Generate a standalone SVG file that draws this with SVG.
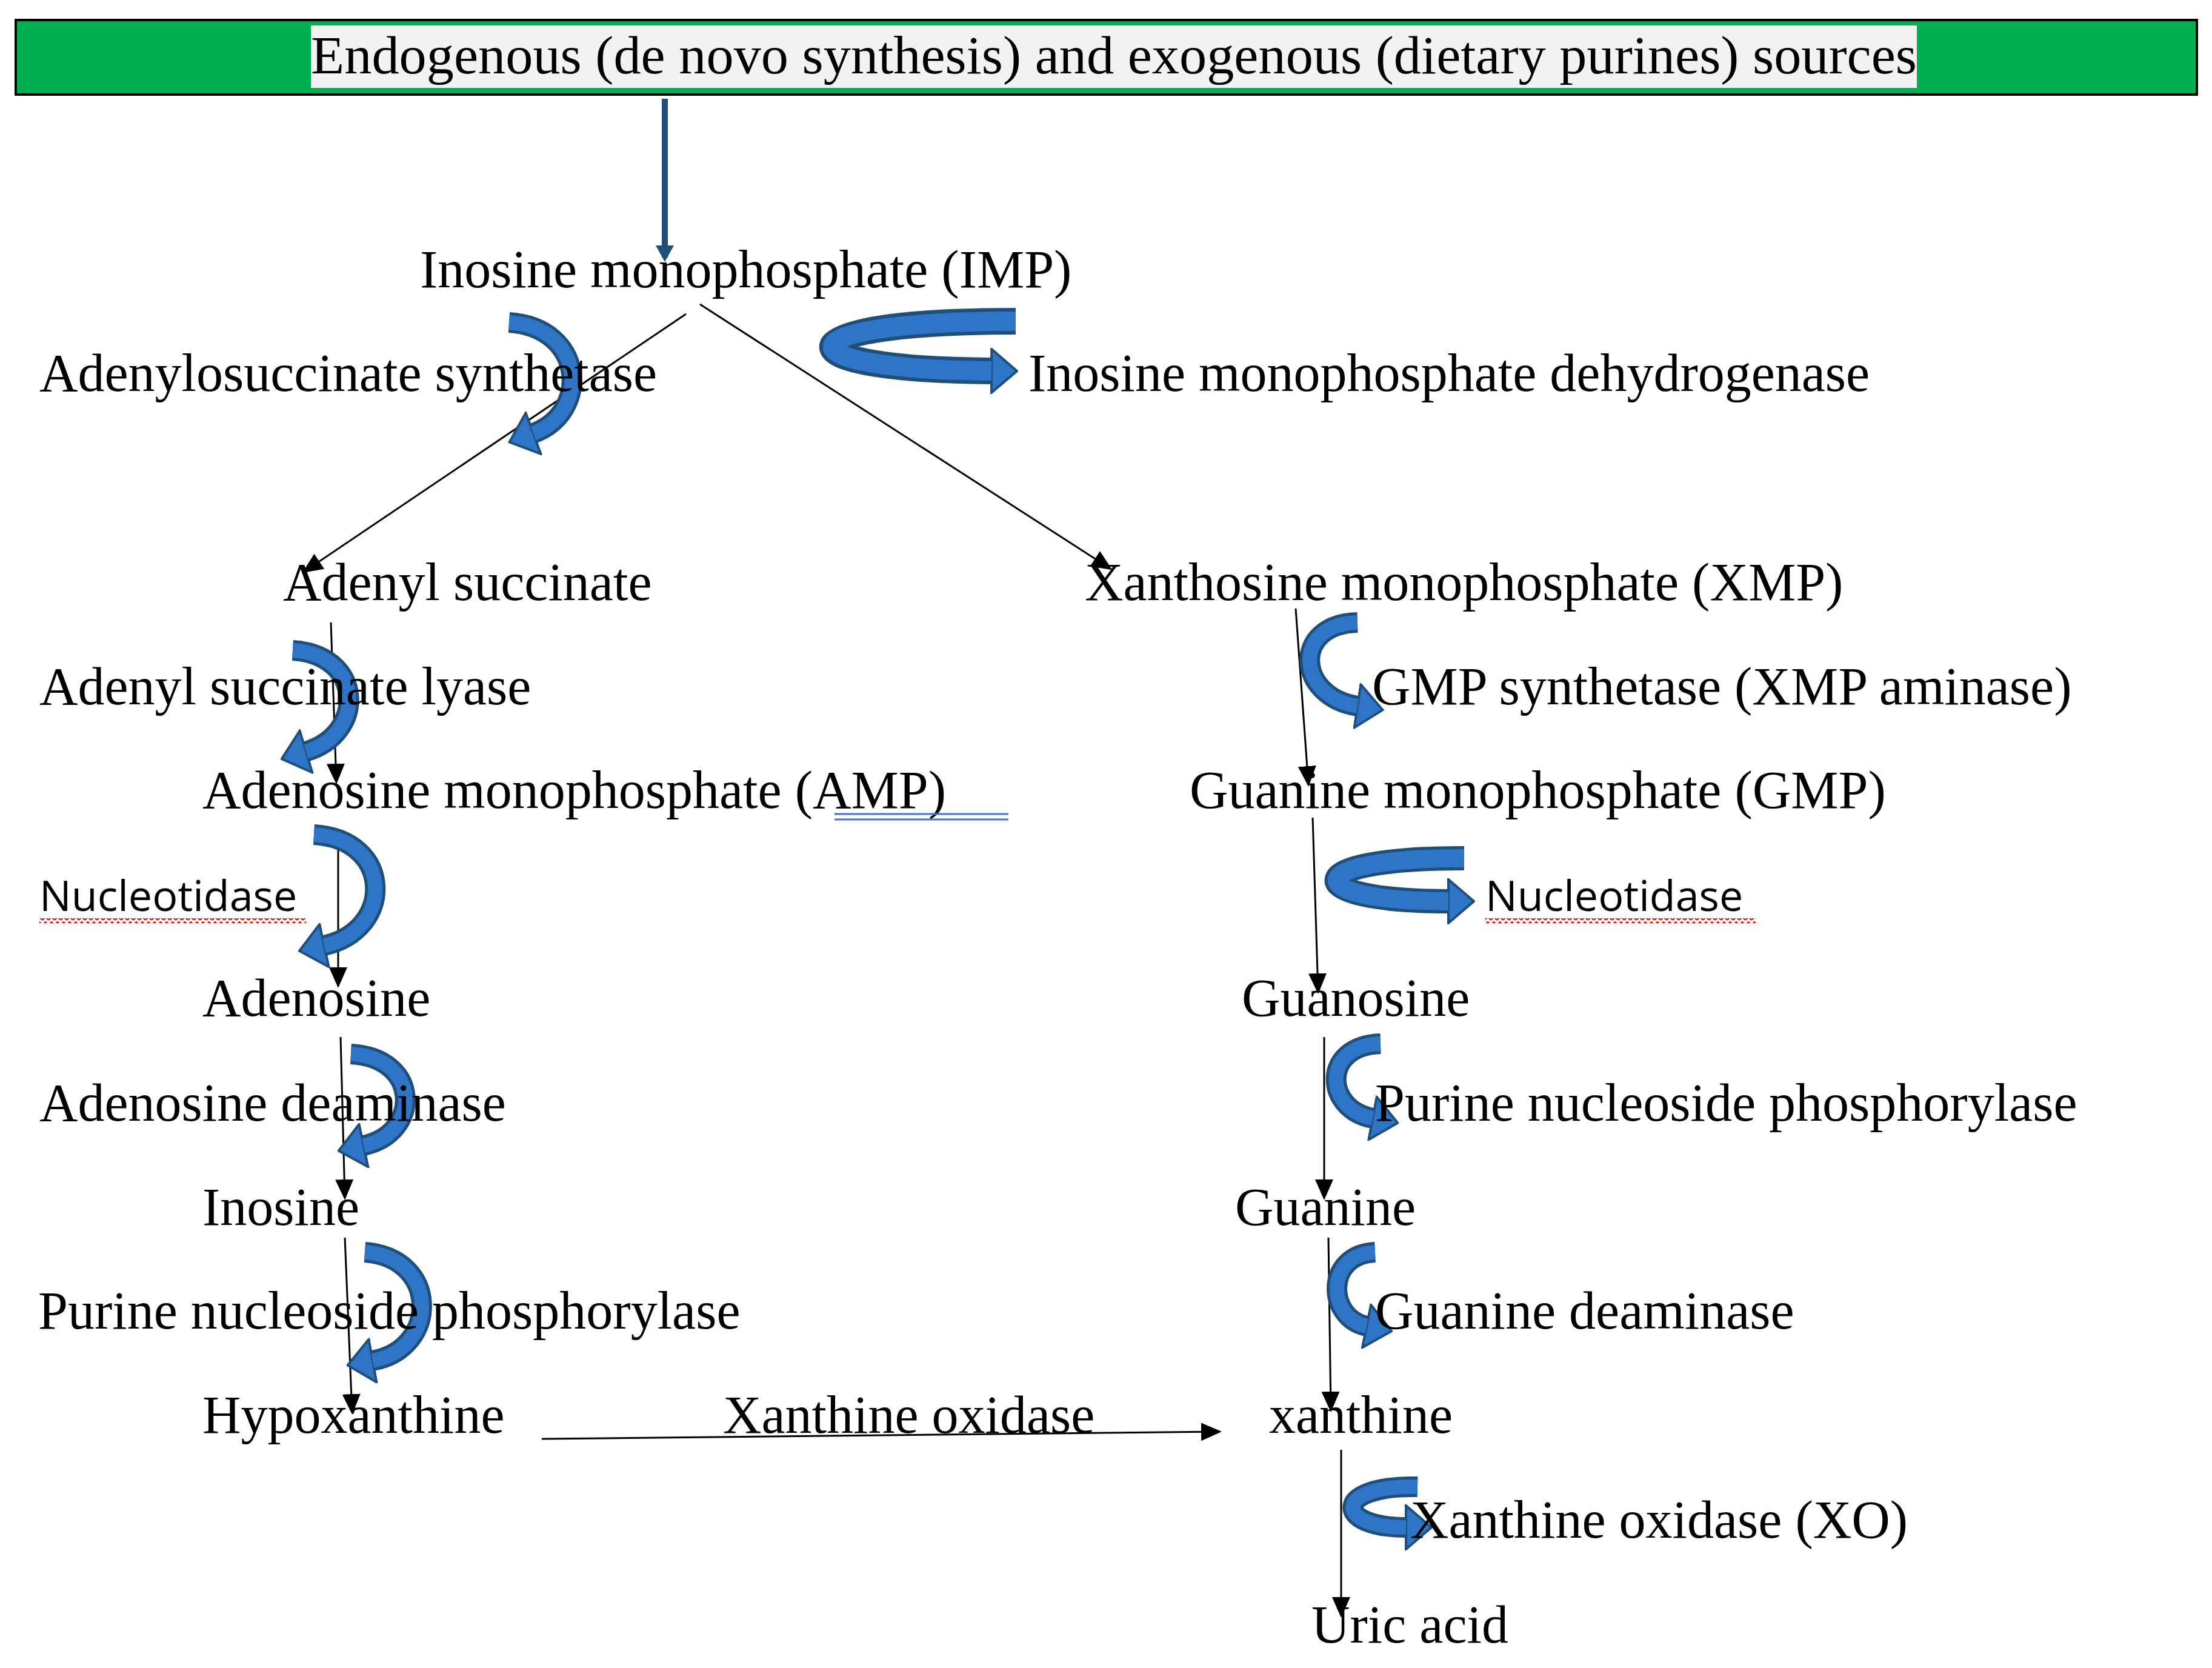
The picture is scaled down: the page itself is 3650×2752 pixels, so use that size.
<svg xmlns="http://www.w3.org/2000/svg" width="3650" height="2752" viewBox="0 0 3650 2752">
<style>
text{font-family:"Liberation Serif","Times New Roman",serif;font-size:88px;fill:#000}
.sans{font-family:"Open Sans","Liberation Sans",sans-serif;font-size:70px}
.c{stroke:#000;stroke-width:3;fill:none;marker-end:url(#ah)}
.bo{stroke:#1F4E79;stroke-width:34;fill:none;marker-end:url(#bh)}
.bi{stroke:#2E75C8;stroke-width:24;fill:none}
</style>
<defs>
<marker id="ah" markerUnits="userSpaceOnUse" markerWidth="34" markerHeight="30" viewBox="0 0 34 30" refX="30" refY="15" orient="auto"><polygon points="0,0 34,15 0,30" fill="#000"/></marker>
<marker id="bh" markerUnits="userSpaceOnUse" markerWidth="46" markerHeight="76" viewBox="0 0 46 76" refX="2" refY="38" orient="auto"><polygon points="2,2 44,38 2,74" fill="#2E75C8" stroke="#1F4E79" stroke-width="4"/></marker>
<pattern id="wave" patternUnits="userSpaceOnUse" width="10" height="8"><polyline points="0,6 5,1 10,6" fill="none" stroke="#E00000" stroke-width="2"/></pattern>
</defs>
<g id="source">
<rect x="26" y="33" width="3599" height="123" fill="#00B050" stroke="#000" stroke-width="4"/>
<rect x="513" y="42" width="2650" height="103" fill="#F2F2F2"/>
<text x="513" y="121" textLength="2650" lengthAdjust="spacingAndGlyphs">Endogenous (de novo synthesis) and exogenous (dietary purines) sources</text>
</g>
<g id="connectors">
<line x1="1097" y1="163" x2="1097" y2="425" stroke="#1F4E79" stroke-width="10"/>
<polygon points="1082,405 1112,405 1097,432" fill="#1F4E79"/>
<line class="c" x1="1132" y1="518" x2="502" y2="943"/>
<line class="c" x1="1155" y1="502" x2="1832" y2="938"/>
<line class="c" x1="546" y1="1027" x2="555" y2="1290"/>
<line class="c" x1="558" y1="1393" x2="558" y2="1626"/>
<line class="c" x1="562" y1="1711" x2="569" y2="1976"/>
<line class="c" x1="569" y1="2042" x2="581" y2="2330"/>
<line class="c" x1="894" y1="2374" x2="2012" y2="2362"/>
<line class="c" x1="2138" y1="1004" x2="2159" y2="1294"/>
<line class="c" x1="2166" y1="1349" x2="2175" y2="1636"/>
<line class="c" x1="2185" y1="1711" x2="2185" y2="1976"/>
<line class="c" x1="2192" y1="2042" x2="2196" y2="2326"/>
<line class="c" x1="2213" y1="2392" x2="2213" y2="2665"/>
</g>
<g id="enzyme-arrows">
<path class="bo" d="M840,532 C965,540 975,680 880,715"/><path class="bi" d="M840,532 C965,540 975,680 880,715"/>
<path class="bo" d="M483,1073 C600,1080 605,1210 505,1240"/><path class="bi" d="M483,1073 C600,1080 605,1210 505,1240"/>
<path class="bo" d="M518,1377 C650,1385 650,1535 535,1560"/><path class="bi" d="M518,1377 C650,1385 650,1535 535,1560"/>
<path class="bo" d="M579,1739 C695,1745 695,1870 600,1890"/><path class="bi" d="M579,1739 C695,1745 695,1870 600,1890"/>
<path class="bo" d="M602,2066 C725,2075 725,2225 615,2245"/><path class="bi" d="M602,2066 C725,2075 725,2225 615,2245"/>
<path class="bo" d="M1676,530 C1280,530 1280,610 1636,612" style="stroke-width:44"/><path class="bi" d="M1676,530 C1280,530 1280,610 1636,612" style="stroke-width:32"/>
<path class="bo" d="M2240,1027 C2130,1030 2140,1150 2240,1165"/><path class="bi" d="M2240,1027 C2130,1030 2140,1150 2240,1165"/>
<path class="bo" d="M2416,1416 C2140,1415 2140,1487 2390,1487" style="stroke-width:40"/><path class="bi" d="M2416,1416 C2140,1415 2140,1487 2390,1487" style="stroke-width:30"/>
<path class="bo" d="M2278,1722 C2180,1725 2185,1830 2265,1845"/><path class="bi" d="M2278,1722 C2180,1725 2185,1830 2265,1845"/>
<path class="bo" d="M2269,2066 C2185,2070 2190,2175 2255,2188"/><path class="bi" d="M2269,2066 C2185,2070 2190,2175 2255,2188"/>
<path class="bo" d="M2339,2453 C2200,2450 2200,2520 2320,2520"/><path class="bi" d="M2339,2453 C2200,2450 2200,2520 2320,2520"/>
</g>
<g id="n-imp"><text x="693" y="474">Inosine monophosphate (IMP)</text></g>
<g id="e-adss"><text x="65" y="645">Adenylosuccinate synthetase</text></g>
<g id="e-impdh"><text x="1697" y="645">Inosine monophosphate dehydrogenase</text></g>
<g id="n-adenylsuccinate"><text x="467" y="990">Adenyl succinate</text></g>
<g id="n-xmp"><text x="1790" y="990">Xanthosine monophosphate (XMP)</text></g>
<g id="e-adsl"><text x="65" y="1162">Adenyl succinate lyase</text></g>
<g id="e-gmps"><text x="2264" y="1162">GMP synthetase (XMP aminase)</text></g>
<g id="n-amp"><text x="334" y="1333">Adenosine monophosphate (AMP)</text>
<line x1="1377" y1="1343" x2="1664" y2="1343" stroke="#4472C4" stroke-width="3"/><line x1="1377" y1="1352" x2="1664" y2="1352" stroke="#4472C4" stroke-width="3"/></g>
<g id="n-gmp"><text x="1963" y="1333">Guanine monophosphate (GMP)</text></g>
<g id="e-nt-left"><text class="sans" x="65" y="1503">Nucleotidase</text><rect x="65" y="1515" width="440" height="8" fill="url(#wave)"/></g>
<g id="e-nt-right"><text class="sans" x="2451" y="1503">Nucleotidase</text><rect x="2451" y="1515" width="446" height="8" fill="url(#wave)"/></g>
<g id="n-adenosine"><text x="334" y="1676">Adenosine</text></g>
<g id="n-guanosine"><text x="2049" y="1676">Guanosine</text></g>
<g id="e-ada"><text x="65" y="1849">Adenosine deaminase</text></g>
<g id="e-pnp-right"><text x="2269" y="1849">Purine nucleoside phosphorylase</text></g>
<g id="n-inosine"><text x="334" y="2021">Inosine</text></g>
<g id="n-guanine"><text x="2038" y="2021">Guanine</text></g>
<g id="e-pnp-left"><text x="63" y="2192">Purine nucleoside phosphorylase</text></g>
<g id="e-gda"><text x="2269" y="2192">Guanine deaminase</text></g>
<g id="n-hypoxanthine"><text x="334" y="2364">Hypoxanthine</text></g>
<g id="e-xo1"><text x="1193" y="2364">Xanthine oxidase</text></g>
<g id="n-xanthine"><text x="2094" y="2364">xanthine</text></g>
<g id="e-xo2"><text x="2327" y="2537">Xanthine oxidase (XO)</text></g>
<g id="n-uric"><text x="2164" y="2710">Uric acid</text></g>
</svg>
